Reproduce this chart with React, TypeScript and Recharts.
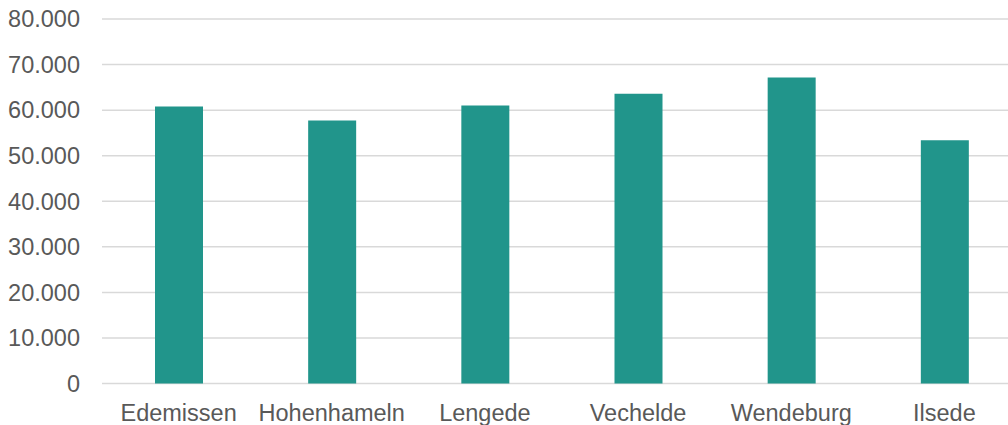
import { BarChart, Bar, XAxis, YAxis, CartesianGrid } from "recharts";

// Gemeinden und Werte
const categories = ["Edemissen", "Hohenhameln", "Lengede", "Vechelde", "Wendeburg", "Ilsede"];
const values = [60800, 57700, 61000, 63600, 67150, 53400];
const yTicks = [0, 10000, 20000, 30000, 40000, 50000, 60000, 70000, 80000];

const data = categories.map((name, i) => ({ name, value: values[i] }));

const formatDe = (v: number) => {
  if (v === 0) return "0";
  const s = String(Math.round(v));
  return s.replace(/\B(?=(\d{3})+(?!\d))/g, ".");
};

const textColor = "#595959";
const fontFamily = '"Liberation Sans", Arial, sans-serif';

export default function App() {
  return (
    <div
      style={{
        position: "absolute",
        top: 0,
        left: 0,
        width: 1008,
        height: 425,
        overflow: "hidden",
        background: "#fff",
      }}
    >
      <BarChart
        width={1021}
        height={425}
        data={data}
        margin={{ top: 19, right: 0, left: 0, bottom: 0 }}
        style={{ fontFamily }}
      >
        <CartesianGrid vertical={false} stroke="#d9d9d9" strokeWidth={1.5} />
        <XAxis
          dataKey="name"
          axisLine={false}
          tickLine={false}
          tickSize={0}
          tickMargin={21}
          height={41.5}
          interval={0}
          tick={{ fill: textColor, fontSize: 23.5, fontFamily }}
        />
        <YAxis
          domain={[0, 80000]}
          ticks={yTicks}
          tickFormatter={formatDe}
          axisLine={false}
          tickLine={false}
          tickSize={0}
          tickMargin={22}
          width={102}
          tick={{ fill: textColor, fontSize: 23.5, fontFamily }}
        />
        <Bar dataKey="value" fill="#21958b" barSize={48} isAnimationActive={false} />
      </BarChart>
    </div>
  );
}
